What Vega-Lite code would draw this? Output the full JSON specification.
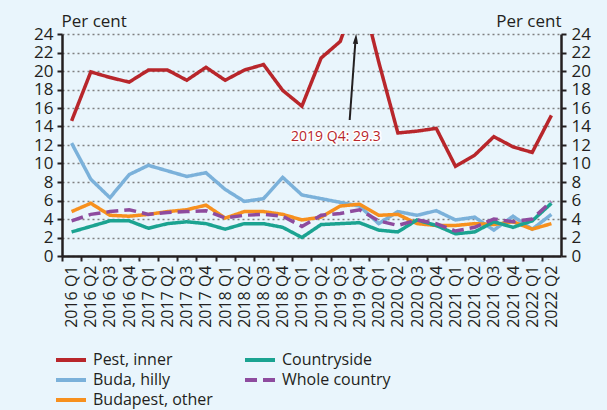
{
  "$schema": "https://vega.github.io/schema/vega-lite/v6.json",
  "width": 499,
  "height": 222,
  "autosize": {"type": "none"},
  "padding": {"left": 62, "top": 34, "right": 46, "bottom": 154},
  "background": "#E9F5FC",
  "config": {"view": {"stroke": null}, "font": "Open Sans"},
  "datasets": {
    "rates": [
      {"i": 0, "q": "2016 Q1", "Pest, inner": 14.6, "Buda, hilly": 12.2, "Budapest, other": 4.8, "Countryside": 2.6, "Whole country": 3.8},
      {"i": 1, "q": "2016 Q2", "Pest, inner": 19.9, "Buda, hilly": 8.3, "Budapest, other": 5.7, "Countryside": 3.2, "Whole country": 4.5},
      {"i": 2, "q": "2016 Q3", "Pest, inner": 19.3, "Buda, hilly": 6.3, "Budapest, other": 4.4, "Countryside": 3.8, "Whole country": 4.8},
      {"i": 3, "q": "2016 Q4", "Pest, inner": 18.8, "Buda, hilly": 8.8, "Budapest, other": 4.3, "Countryside": 3.8, "Whole country": 5.0},
      {"i": 4, "q": "2017 Q1", "Pest, inner": 20.1, "Buda, hilly": 9.8, "Budapest, other": 4.5, "Countryside": 3.0, "Whole country": 4.5},
      {"i": 5, "q": "2017 Q2", "Pest, inner": 20.1, "Buda, hilly": 9.2, "Budapest, other": 4.8, "Countryside": 3.5, "Whole country": 4.7},
      {"i": 6, "q": "2017 Q3", "Pest, inner": 19.0, "Buda, hilly": 8.6, "Budapest, other": 5.0, "Countryside": 3.7, "Whole country": 4.8},
      {"i": 7, "q": "2017 Q4", "Pest, inner": 20.4, "Buda, hilly": 9.0, "Budapest, other": 5.5, "Countryside": 3.5, "Whole country": 4.9},
      {"i": 8, "q": "2018 Q1", "Pest, inner": 19.0, "Buda, hilly": 7.2, "Budapest, other": 4.1, "Countryside": 2.9, "Whole country": 4.1},
      {"i": 9, "q": "2018 Q2", "Pest, inner": 20.1, "Buda, hilly": 5.9, "Budapest, other": 4.8, "Countryside": 3.5, "Whole country": 4.4},
      {"i": 10, "q": "2018 Q3", "Pest, inner": 20.7, "Buda, hilly": 6.2, "Budapest, other": 4.8, "Countryside": 3.5, "Whole country": 4.5},
      {"i": 11, "q": "2018 Q4", "Pest, inner": 17.9, "Buda, hilly": 8.5, "Budapest, other": 4.5, "Countryside": 3.1, "Whole country": 4.3},
      {"i": 12, "q": "2019 Q1", "Pest, inner": 16.2, "Buda, hilly": 6.6, "Budapest, other": 3.9, "Countryside": 2.0, "Whole country": 3.2},
      {"i": 13, "q": "2019 Q2", "Pest, inner": 21.4, "Buda, hilly": 6.2, "Budapest, other": 4.2, "Countryside": 3.4, "Whole country": 4.4},
      {"i": 14, "q": "2019 Q3", "Pest, inner": 23.2, "Buda, hilly": 5.8, "Budapest, other": 5.4, "Countryside": 3.5, "Whole country": 4.6},
      {"i": 15, "q": "2019 Q4", "Pest, inner": 29.3, "Buda, hilly": 5.4, "Budapest, other": 5.6, "Countryside": 3.6, "Whole country": 5.0},
      {"i": 16, "q": "2020 Q1", "Pest, inner": 21.0, "Buda, hilly": 3.5, "Budapest, other": 4.4, "Countryside": 2.8, "Whole country": 3.8},
      {"i": 17, "q": "2020 Q2", "Pest, inner": 13.3, "Buda, hilly": 4.8, "Budapest, other": 4.5, "Countryside": 2.6, "Whole country": 3.3},
      {"i": 18, "q": "2020 Q3", "Pest, inner": 13.5, "Buda, hilly": 4.4, "Budapest, other": 3.5, "Countryside": 3.9, "Whole country": 3.9},
      {"i": 19, "q": "2020 Q4", "Pest, inner": 13.8, "Buda, hilly": 4.9, "Budapest, other": 3.3, "Countryside": 3.3, "Whole country": 3.5},
      {"i": 20, "q": "2021 Q1", "Pest, inner": 9.7, "Buda, hilly": 3.9, "Budapest, other": 3.3, "Countryside": 2.4, "Whole country": 2.7},
      {"i": 21, "q": "2021 Q2", "Pest, inner": 10.9, "Buda, hilly": 4.2, "Budapest, other": 3.5, "Countryside": 2.6, "Whole country": 3.1},
      {"i": 22, "q": "2021 Q3", "Pest, inner": 12.9, "Buda, hilly": 2.8, "Budapest, other": 3.4, "Countryside": 3.7, "Whole country": 4.0},
      {"i": 23, "q": "2021 Q4", "Pest, inner": 11.8, "Buda, hilly": 4.3, "Budapest, other": 3.7, "Countryside": 3.1, "Whole country": 3.7},
      {"i": 24, "q": "2022 Q1", "Pest, inner": 11.2, "Buda, hilly": 2.9, "Budapest, other": 2.9, "Countryside": 3.8, "Whole country": 4.0},
      {"i": 25, "q": "2022 Q2", "Pest, inner": 15.2, "Buda, hilly": 4.5, "Budapest, other": 3.5, "Countryside": 5.7, "Whole country": 5.9}
    ],
    "arrow": [{"i": 14.49, "i2": 14.78, "y": 14.7, "y2": 23.0}],
    "head": [{"i": 14.81, "y": 23.5}],
    "note": [{"i": 13.77, "y": 12.9, "label": "2019 Q4: 29.3"}]
  },
  "encoding": {
    "x": {
      "field": "i", "type": "quantitative",
      "scale": {"domain": [-0.5, 25.5], "nice": false, "zero": false},
      "axis": {
        "title": null,
        "values": [0,1,2,3,4,5,6,7,8,9,10,11,12,13,14,15,16,17,18,19,20,21,22,23,24,25],
        "labelExpr": "(2016 + floor(datum.value / 4)) + ' Q' + (datum.value % 4 + 1)",
        "labelAngle": -90, "labelAlign": "right", "labelBaseline": "middle",
        "labelFontSize": 16, "labelColor": "#231F20", "labelPadding": 4,
        "labelOffset": 9.6, "tickOffset": -9.6,
        "domainColor": "#231F20", "domainWidth": 2.5,
        "tickColor": "#231F20", "tickWidth": 2, "tickSize": 5,
        "grid": false, "labelOverlap": false, "labelFlush": false, "labelBound": false
      }
    }
  },
  "layer": [
    {
      "data": {"name": "rates"},
      "transform": [
        {"fold": ["Pest, inner", "Buda, hilly", "Budapest, other", "Countryside", "Whole country"], "as": ["series", "value"]}
      ],
      "mark": {"type": "line", "strokeWidth": 3.5, "clip": true, "strokeJoin": "miter"},
      "encoding": {
        "y": {
          "field": "value", "type": "quantitative",
          "scale": {"domain": [0, 24], "nice": false},
          "axis": {
            "orient": "left",
            "values": [0,2,4,6,8,10,12,14,16,18,20,22,24],
            "title": "Per cent", "titleAngle": 0, "titleAlign": "left", "titleBaseline": "alphabetic",
            "titleX": -1, "titleY": -8, "titleFontSize": 17, "titleFontWeight": "normal", "titleColor": "#231F20",
            "labelFontSize": 17, "labelColor": "#231F20", "labelPadding": 4,
            "domainColor": "#231F20", "domainWidth": 2.5,
            "tickColor": "#231F20", "tickWidth": 2, "tickSize": 5,
            "grid": true, "gridColor": "#808080", "gridDash": [2, 3], "gridWidth": 1.3
          }
        },
        "color": {
          "field": "series", "type": "nominal",
          "scale": {
            "domain": ["Pest, inner", "Buda, hilly", "Budapest, other", "Countryside", "Whole country"],
            "range": ["#B8262B", "#7BB1DA", "#F7901E", "#1BA391", "#8E4B9E"]
          },
          "legend": {
            "title": null, "orient": "none", "legendX": 1, "legendY": 318,
            "direction": "vertical", "columns": 2, "columnPadding": 24, "rowPadding": 4,
            "symbolType": "M-3,0H3", "symbolSize": 100, "symbolStrokeWidth": 4,
            "labelFontSize": 16, "labelColor": "#231F20", "labelOffset": 14, "padding": 0
          }
        },
        "strokeDash": {
          "field": "series", "type": "nominal",
          "scale": {
            "domain": ["Pest, inner", "Buda, hilly", "Budapest, other", "Countryside", "Whole country"],
            "range": [[1, 0], [1, 0], [1, 0], [1, 0], [12, 6]]
          },
          "legend": {
            "title": null, "orient": "none", "legendX": 1, "legendY": 318,
            "direction": "vertical", "columns": 2, "columnPadding": 24, "rowPadding": 4,
            "symbolType": "M-3,0H3", "symbolSize": 100, "symbolStrokeWidth": 4,
            "labelFontSize": 16, "labelColor": "#231F20", "labelOffset": 14, "padding": 0
          }
        }
      }
    },
    {
      "data": {"name": "arrow"},
      "mark": {"type": "rule", "color": "#231F20", "strokeWidth": 2},
      "encoding": {
        "x2": {"field": "i2"},
        "y": {
          "field": "y", "type": "quantitative",
          "axis": {
            "orient": "right",
            "values": [0,2,4,6,8,10,12,14,16,18,20,22,24],
            "title": "Per cent", "titleAngle": 0, "titleAlign": "right", "titleBaseline": "alphabetic",
            "titleX": 0, "titleY": -8, "titleFontSize": 17, "titleFontWeight": "normal", "titleColor": "#231F20",
            "labelFontSize": 17, "labelColor": "#231F20", "labelPadding": 5,
            "domainColor": "#231F20", "domainWidth": 2.5,
            "tickColor": "#231F20", "tickWidth": 2, "tickSize": 5,
            "grid": false
          }
        },
        "y2": {"field": "y2"}
      }
    },
    {
      "data": {"name": "head"},
      "mark": {"type": "point", "shape": "M0,-1L0.5,1L-0.5,1Z", "filled": true, "color": "#231F20", "size": 110, "angle": 4, "opacity": 1},
      "encoding": {
        "y": {"field": "y", "type": "quantitative", "axis": null}
      }
    },
    {
      "data": {"name": "note"},
      "mark": {"type": "text", "fontSize": 14, "stroke": "white", "strokeWidth": 3, "strokeJoin": "round", "color": "white"},
      "encoding": {
        "y": {"field": "y", "type": "quantitative", "axis": null},
        "text": {"field": "label"}
      }
    },
    {
      "data": {"name": "note"},
      "mark": {"type": "text", "fontSize": 14, "color": "#B8262B"},
      "encoding": {
        "y": {"field": "y", "type": "quantitative", "axis": null},
        "text": {"field": "label"}
      }
    }
  ],
  "resolve": {"axis": {"y": "independent"}}
}
